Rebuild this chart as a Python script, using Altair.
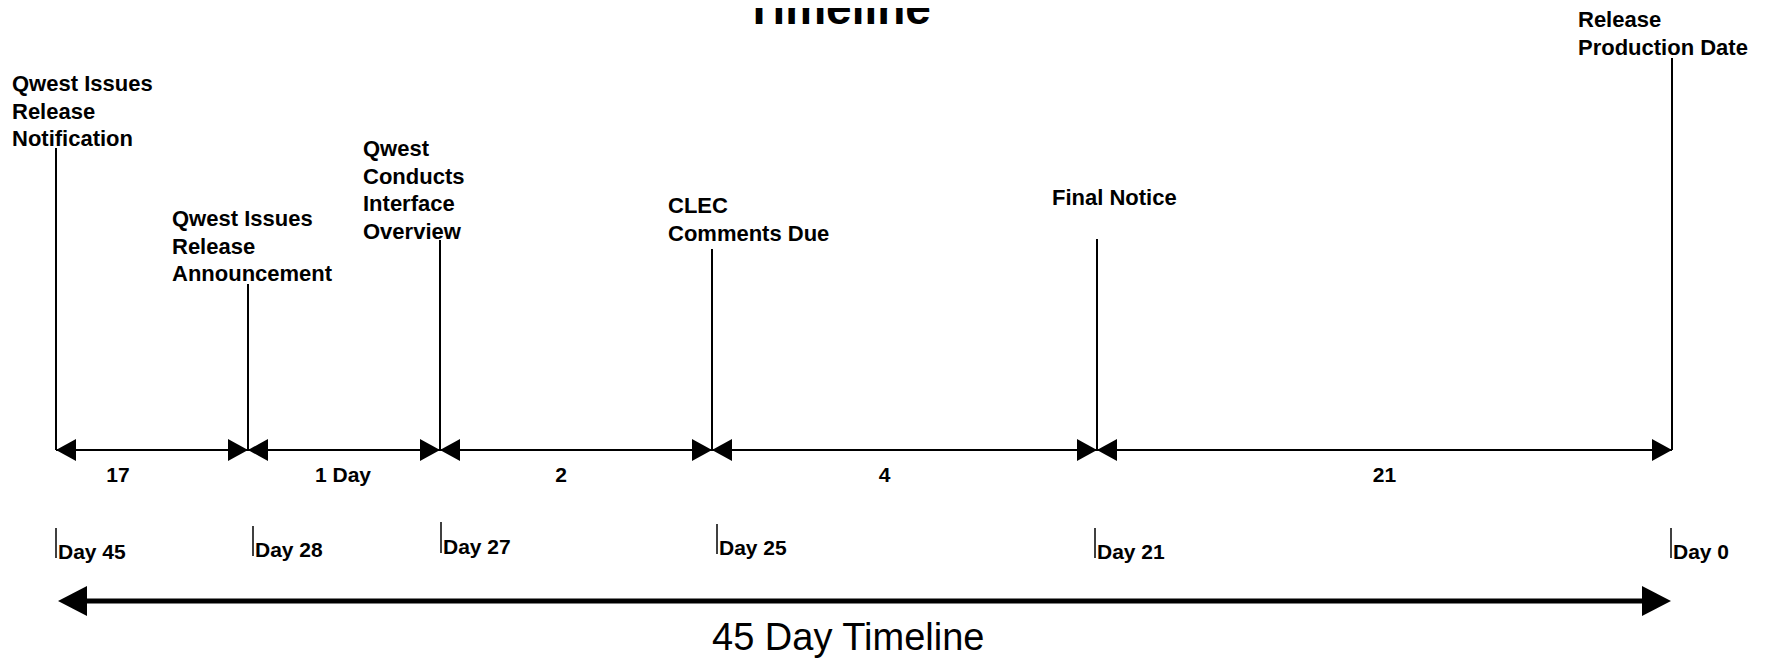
import altair as alt
import pandas as pd

# ---------------- data ----------------
title_text = "Timeline"
event_days = [45, 28, 27, 25, 21, 0]
event_titles = [
    ["Qwest Issues", "Release", "Notification"],
    ["Qwest Issues", "Release", "Announcement"],
    ["Qwest", "Conducts", "Interface", "Overview"],
    ["CLEC", "Comments Due"],
    ["Final Notice"],
    ["Release", "Production Date"],
]
day_labels = ["Day 45", "Day 28", "Day 27", "Day 25", "Day 21", "Day 0"]
segment_labels = ["17", "1 Day", "2", "4", "21"]
footer_text = "45 Day Timeline"

# ---------------- layout / style ----------------
OFF = 8                      # page margin
W, H = 1751, 651
FONT = "Liberation Sans"
event_px = [56, 248, 440, 712, 1097, 1672]        # page x of each event (scale range)
line_top = [148, 284, 240, 249, 239, 58]          # top of each event line
label_baseline = [91, 226, 156, 213, 205, 27]     # first-line baseline of each event title
label_dx = [-44, -76, -77, -44, -45, -94]         # title left edge relative to line
seg_dx = [-34, -1, -15, -20, 0]                   # segment label offset from midpoint
tick_top = [528, 526, 522, 524, 528, 528]
tick_bot = [558, 556, 553, 554, 558, 558]
tick_dx = [0, 5, 1, 5, -2, -1]
SEG_Y = 450
BIG_Y = 601

xscale = alt.Scale(domain=event_days, range=[p - OFF for p in event_px], nice=False, zero=False)


def X(field):
    return alt.X(field, type="quantitative", scale=xscale, axis=None)


def py(v):
    return alt.value(v - OFF)


LEFT_HEAD = "M0,0L1,-0.55L1,0.55Z"
RIGHT_HEAD = "M0,0L-1,-0.55L-1,0.55Z"
LEFT_BIG = "M0,0L1,-0.52L1,0.52Z"
RIGHT_BIG = "M0,0L-1,-0.52L-1,0.52Z"

events_df = pd.DataFrame({"day": event_days, "label": day_labels})
seg_df = pd.DataFrame({
    "start": event_days[:-1],
    "end": event_days[1:],
    "label": segment_labels,
})
seg_df["mid"] = (seg_df["start"] + seg_df["end"]) / 2
span_df = pd.DataFrame({"start": [event_days[0]], "end": [event_days[-1]]})

layers = []

# title (partly cut off at the top like the reference)
layers.append(
    alt.Chart(pd.DataFrame({"t": [title_text]})).mark_text(
        font=FONT, fontSize=46, fontWeight="bold", align="center",
        baseline="alphabetic", color="black"
    ).encode(x=alt.value(838 - OFF), y=py(24), text="t:N")
)

# event lines and titles
for i in range(len(event_days)):
    row = events_df.iloc[[i]]
    layers.append(
        alt.Chart(row).mark_rule(color="black", strokeWidth=2).encode(
            x=X("day"), y=py(line_top[i]), y2=py(SEG_Y)
        )
    )
    layers.append(
        alt.Chart(row).mark_text(
            text=event_titles[i], font=FONT, fontSize=22, fontWeight="bold",
            align="left", baseline="alphabetic", lineHeight=27.5,
            dx=label_dx[i], color="black"
        ).encode(x=X("day"), y=py(label_baseline[i]))
    )
    # day ticks and labels
    layers.append(
        alt.Chart(row).mark_rule(color="black", strokeWidth=1.5, xOffset=tick_dx[i]).encode(
            x=X("day"), y=py(tick_top[i]), y2=py(tick_bot[i])
        )
    )
    layers.append(
        alt.Chart(row).mark_text(
            font=FONT, fontSize=21, fontWeight="bold", align="left",
            baseline="alphabetic", dx=tick_dx[i] + 2, color="black"
        ).encode(x=X("day"), y=py(tick_bot[i] + 1), text="label:N")
    )

# segment double arrows
layers.append(
    alt.Chart(seg_df).mark_rule(color="black", strokeWidth=2).encode(
        x=X("start"), x2="end", y=py(SEG_Y)
    )
)
layers.append(
    alt.Chart(seg_df).mark_point(
        shape=LEFT_HEAD, size=1600, filled=True, opacity=1, color="black", strokeWidth=0
    ).encode(x=X("start"), y=py(SEG_Y))
)
layers.append(
    alt.Chart(seg_df).mark_point(
        shape=RIGHT_HEAD, size=1600, filled=True, opacity=1, color="black", strokeWidth=0
    ).encode(x=X("end"), y=py(SEG_Y))
)
for i in range(len(segment_labels)):
    layers.append(
        alt.Chart(seg_df.iloc[[i]]).mark_text(
            font=FONT, fontSize=21, fontWeight="bold", align="center",
            baseline="alphabetic", dx=seg_dx[i], color="black"
        ).encode(x=X("mid"), y=py(482), text="label:N")
    )

# big 45-day arrow
layers.append(
    alt.Chart(span_df).mark_rule(color="black", strokeWidth=5, xOffset=2 + 27, x2Offset=-1 - 27).encode(
        x=X("start"), x2="end", y=py(BIG_Y)
    )
)
layers.append(
    alt.Chart(span_df).mark_point(
        shape=LEFT_BIG, size=3364, filled=True, opacity=1, color="black", strokeWidth=0, xOffset=2
    ).encode(x=X("start"), y=py(BIG_Y))
)
layers.append(
    alt.Chart(span_df).mark_point(
        shape=RIGHT_BIG, size=3364, filled=True, opacity=1, color="black", strokeWidth=0, xOffset=-1
    ).encode(x=X("end"), y=py(BIG_Y))
)
layers.append(
    alt.Chart(pd.DataFrame({"t": [footer_text]})).mark_text(
        font=FONT, fontSize=38, align="left", baseline="alphabetic", color="black"
    ).encode(x=alt.value(712 - OFF), y=py(650), text="t:N")
)

chart = alt.layer(*layers).resolve_scale(x="independent").properties(
    width=W, height=H, padding=0, autosize="none", background="white"
).configure_view(stroke=None)

chart.save("out.html", embed_options={"renderer": "svg", "actions": False})
